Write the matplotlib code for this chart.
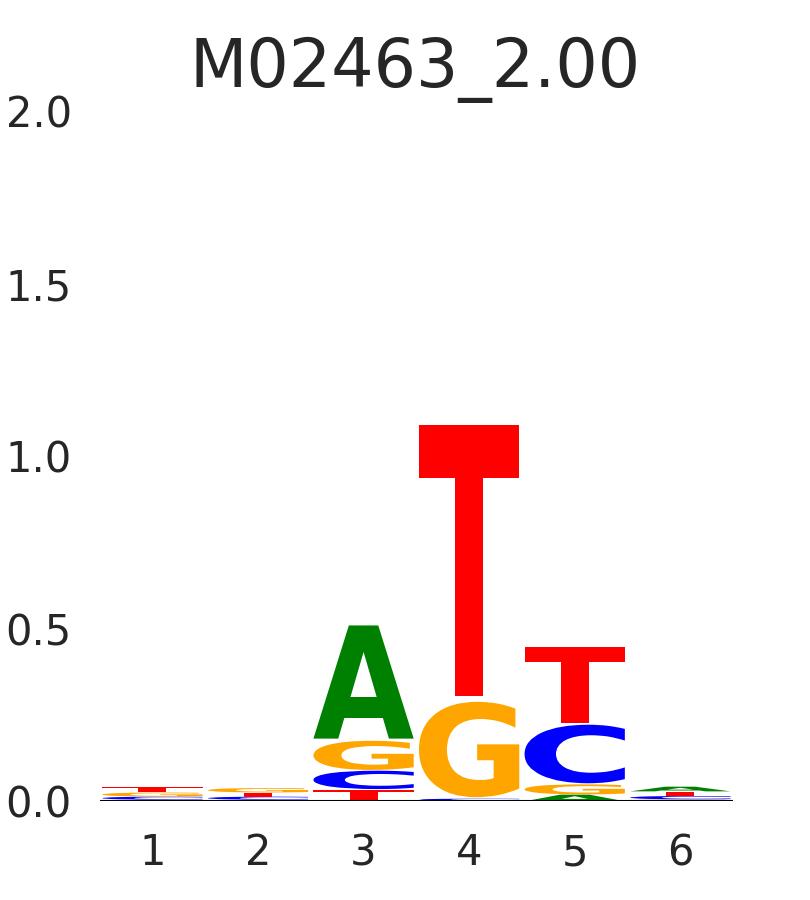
import matplotlib
matplotlib.use("Agg")
import matplotlib.pyplot as plt
from matplotlib.textpath import TextPath
from matplotlib.patches import PathPatch
from matplotlib.font_manager import FontProperties
from matplotlib.transforms import Affine2D

positions = [1, 2, 3, 4, 5, 6]
A = [0.005, 0.005, 0.338, 0.003, 0.020, 0.014]
C = [0.009, 0.009, 0.055, 0.005, 0.175, 0.010]
G = [0.012, 0.013, 0.087, 0.285, 0.030, 0.006]
T = [0.017, 0.012, 0.035, 0.810, 0.225, 0.013]

colors = {"A": "#008000", "C": "#0000ff", "G": "#ffa500", "T": "#ff0000"}
heights = {"A": A, "C": C, "G": G, "T": T}

fp = FontProperties(family="DejaVu Sans", weight="bold")


def draw_letter(ax, ch, x, y, w, h, color):
    tp = TextPath((0, 0), ch, size=1, prop=fp)
    ext = tp.get_extents()
    tr = (Affine2D()
          .translate(-ext.x0, -ext.y0)
          .scale(w / ext.width, h / ext.height)
          .translate(x, y))
    ax.add_patch(PathPatch(tr.transform_path(tp), facecolor=color,
                           edgecolor="none"))


fig = plt.figure(figsize=(8.1, 9), dpi=100)
ax = fig.add_axes([0.123, 0.1095, 0.782, 0.767])

width = 0.95
vpad = 0.03
for i, p in enumerate(positions):
    stack = sorted("ACGT", key=lambda b: heights[b][i])
    y = 0
    for b in stack:
        h = heights[b][i]
        draw_letter(ax, b, p - width / 2, y + h * vpad / 2, width,
                    h * (1 - vpad), colors[b])
        y += h

ax.axhline(0, color="black", lw=1.5)
ax.set_xlim(0.5, 6.5)
ax.set_ylim(0, 2)
ax.set_xticks(positions)
ax.set_yticks([0, 0.5, 1.0, 1.5, 2.0])
ax.set_yticklabels(["0.0", "0.5", "1.0", "1.5", "2.0"])
for s in ax.spines.values():
    s.set_visible(False)
ax.tick_params(length=0, labelsize=30, colors="#262626", pad=22)
ax.tick_params(axis="y", pad=20)
fig.text(0.512, 0.903, "M02463_2.00", fontsize=48, color="#262626",
         ha="center", va="baseline")

fig.savefig("out.png")
